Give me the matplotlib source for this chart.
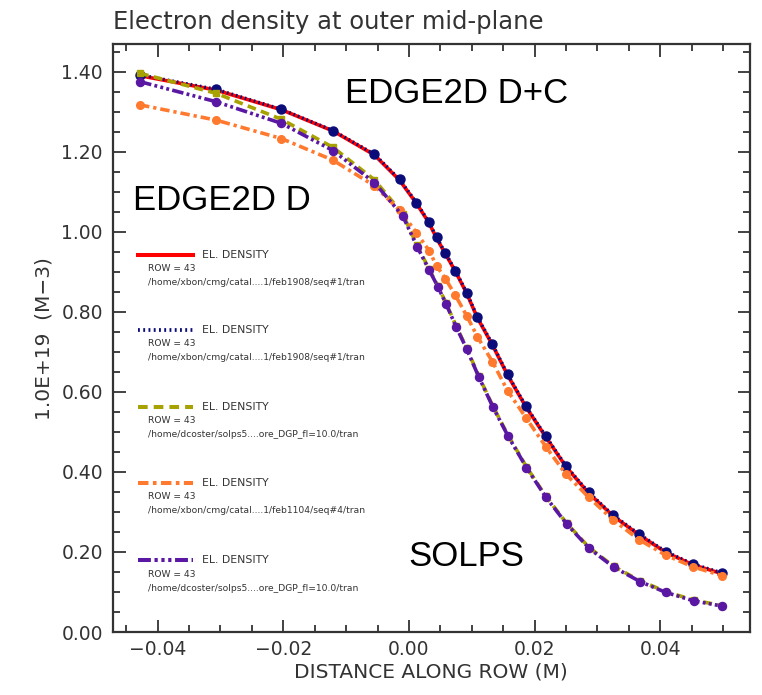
import matplotlib
matplotlib.use("Agg")
from matplotlib import pyplot as plt
from matplotlib.lines import Line2D
from matplotlib.ticker import MultipleLocator

# distance along row (m), EDGE2D grid
x_edge2d = [-0.0428, -0.0307, -0.0203, -0.0121, -0.0055, -0.0015, 0.0012, 0.0032,
            0.0044, 0.0058, 0.0074, 0.0092, 0.0109, 0.0133, 0.0157, 0.0186,
            0.0218, 0.0250, 0.0286, 0.0325, 0.0367, 0.0409, 0.0452, 0.0498]
# SOLPS grid
x_solps = [-0.0428, -0.0307, -0.0203, -0.0121, -0.0055, -0.0010, 0.0013, 0.0032,
           0.0046, 0.0059, 0.0075, 0.0092, 0.0111, 0.0134, 0.0158, 0.0187,
           0.0218, 0.0251, 0.0287, 0.0326, 0.0368, 0.0409, 0.0453, 0.0498]

# electron density, 1.0E+19 m^-3
ne_red = [1.390, 1.354, 1.305, 1.252, 1.192, 1.129, 1.071, 1.022, 0.984, 0.945,
          0.901, 0.846, 0.785, 0.717, 0.642, 0.563, 0.487, 0.413, 0.347, 0.290,
          0.242, 0.199, 0.168, 0.146]
ne_navy = [1.392, 1.356, 1.306, 1.253, 1.194, 1.131, 1.073, 1.024, 0.986, 0.947,
           0.903, 0.848, 0.787, 0.719, 0.644, 0.565, 0.489, 0.415, 0.349, 0.292,
           0.244, 0.201, 0.170, 0.148]
ne_olive = [1.396, 1.346, 1.281, 1.211, 1.130, 1.045, 0.966, 0.907, 0.865, 0.822,
            0.765, 0.709, 0.640, 0.563, 0.491, 0.413, 0.339, 0.272, 0.211, 0.164,
            0.128, 0.101, 0.080, 0.066]
ne_orange = [1.317, 1.279, 1.233, 1.179, 1.115, 1.054, 0.998, 0.953, 0.915, 0.883,
             0.841, 0.790, 0.738, 0.675, 0.603, 0.536, 0.463, 0.394, 0.337, 0.280,
             0.230, 0.192, 0.163, 0.141]
ne_purple = [1.375, 1.325, 1.271, 1.203, 1.123, 1.040, 0.963, 0.905, 0.863, 0.820,
             0.763, 0.707, 0.638, 0.561, 0.489, 0.411, 0.337, 0.270, 0.209, 0.162,
             0.126, 0.099, 0.078, 0.065]

files = ["/home/xbon/cmg/catal....1/feb1908/seq#1/tran",
         "/home/xbon/cmg/catal....1/feb1908/seq#1/tran",
         "/home/dcoster/solps5....ore_DGP_fl=10.0/tran",
         "/home/xbon/cmg/catal....1/feb1104/seq#4/tran",
         "/home/dcoster/solps5....ore_DGP_fl=10.0/tran"]

RED = "#ff0000"
NAVY = "#0b0b7a"
OLIVE = "#a8a200"
ORANGE = "#ff7a2e"
PURPLE = "#5a17a3"
GREY = "#333333"

styles = [
    dict(color=RED, lw=2.6, ls="-"),
    dict(color=NAVY, lw=2.4, ls=(0, (0.5, 0.9))),
    dict(color=OLIVE, lw=2.6, ls=(0, (2.4, 1.5))),
    dict(color=ORANGE, lw=2.6, ls=(0, (2.6, 1.1, 0.9, 1.1))),
    dict(color=PURPLE, lw=2.6, ls=(0, (3.2, 0.9, 0.8, 0.9, 0.8, 0.9, 0.8, 0.9))),
]

fig = plt.figure(figsize=(7.62, 6.95), dpi=100)
ax = fig.add_axes([0.1479, 0.0906, 0.8364, 0.8457])

ax.plot(x_edge2d, ne_red, **styles[0])
ax.plot(x_edge2d, ne_navy, marker="o", ms=6.5, mec=NAVY, mfc=NAVY, **styles[1])
ax.plot(x_solps, ne_olive, marker="s", ms=4.5, mec=OLIVE, mfc=OLIVE, **styles[2])
ax.plot(x_edge2d, ne_orange, marker="o", ms=5.5, mec=ORANGE, mfc=ORANGE, **styles[3])
ax.plot(x_solps, ne_purple, marker="o", ms=5.8, mec=PURPLE, mfc=PURPLE, **styles[4])

ax.set_xlim(-0.04716, 0.0543)
ax.set_ylim(0.0, 1.4685)
ax.xaxis.set_major_locator(MultipleLocator(0.02))
ax.xaxis.set_minor_locator(MultipleLocator(0.005))
ax.yaxis.set_major_locator(MultipleLocator(0.2))
ax.yaxis.set_minor_locator(MultipleLocator(0.05))
ax.xaxis.set_major_formatter(lambda v, p: f"{v:.2f}".replace("-", "\u2212"))
ax.yaxis.set_major_formatter(lambda v, p: f"{v:.2f}")

ax.tick_params(which="both", direction="in", top=True, right=True,
               colors=GREY, width=1.3, labelsize=13.5, labelcolor=GREY)
ax.tick_params(which="major", length=9)
ax.tick_params(which="minor", length=5)
ax.tick_params(axis="y", pad=7)
ax.tick_params(axis="x", pad=6)
for s in ax.spines.values():
    s.set_color(GREY)
    s.set_linewidth(1.6)

ax.set_xlabel("DISTANCE ALONG ROW (M)", fontsize=14.5, color=GREY, labelpad=2)
ax.set_ylabel("1.0E+19  (M\u22123)", fontsize=14.5, color=GREY, labelpad=6)
fig.text(0.148, 0.968, "Electron density at outer mid-plane", fontsize=17.5,
         color=GREY, va="center", ha="left")

big = dict(family="Liberation Sans", fontsize=25, color="black", va="center")
ax.text(0.3645, 0.917, "EDGE2D D+C", transform=ax.transAxes, **big)
ax.text(0.0319, 0.735, "EDGE2D D", transform=ax.transAxes, **big)
ax.text(0.4634, 0.1293, "SOLPS", transform=ax.transAxes, **big)

# legend block
leg_y = [0.6415, 0.5139, 0.3829, 0.2536, 0.1225]
for st, fname, yy in zip(styles, files, leg_y):
    ax.add_line(Line2D([0.0397, 0.126], [yy, yy], transform=ax.transAxes,
                       color=st["color"], lw=st["lw"] + 0.3, ls=st["ls"]))
    ax.text(0.140, yy, "EL. DENSITY", transform=ax.transAxes, fontsize=7.8,
            color=GREY, va="center")
    ax.text(0.0554, yy - 0.0238, "ROW = 43", transform=ax.transAxes,
            fontsize=6.6, color=GREY, va="center")
    ax.text(0.0554, yy - 0.0476, fname, transform=ax.transAxes,
            fontsize=6.6, color=GREY, va="center")

fig.savefig("out.png", dpi=100)
